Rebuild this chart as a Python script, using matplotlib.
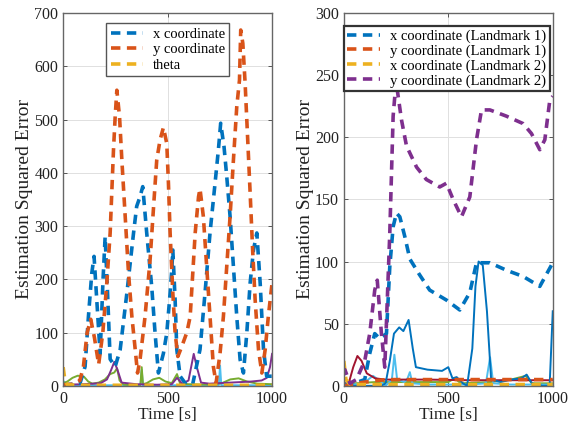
import matplotlib
matplotlib.use("Agg")
import matplotlib.pyplot as plt
import numpy as np

plt.rcParams['font.family'] = ['Liberation Serif', 'DejaVu Serif']

C_BLUE = '#0072BD'
C_ORANGE = '#D95319'
C_YELLOW = '#EDB120'
C_PURPLE = '#7E2F8E'
C_GREEN = '#77AC30'
C_CYAN = '#4DBEEE'
C_RED = '#A2142F'

# ---------------- Left panel data ----------------
L_x_t = [0, 50, 81, 105, 121, 137, 148, 161, 177, 191, 201, 212, 225, 249, 273, 305, 337, 352, 368, 381,
         400, 424, 440, 456, 480, 496, 512, 520, 525, 536, 544, 560, 590, 620, 655, 679, 703, 727, 743, 754,
         770, 783, 799, 815, 831, 847, 863, 879, 895, 911, 927, 943, 959, 974, 1000]
L_x_v = [2, 3, 5, 36, 130, 211, 243, 161, 60, 200, 280, 180, 50, 36, 68, 174, 287, 337, 355, 374,
         287, 186, 99, 24, 61, 99, 174, 218, 255, 161, 68, 18, 2, 3, 68, 174, 287, 380, 443, 493,
         449, 393, 318, 224, 130, 49, 24, 99, 193, 255, 287, 193, 68, 18, 18]

L_y_t = [0, 50, 80, 97, 115, 132, 150, 170, 190, 209, 225, 241, 249, 257, 270, 281, 297, 313, 329, 345,
         356, 368, 392, 416, 435, 448, 464, 480, 496, 504, 512, 525, 536, 549, 568, 592, 608, 632, 648, 655,
         671, 687, 703, 719, 732, 751, 767, 783, 799, 815, 831, 844, 850, 860, 871, 882, 895, 907, 919, 935,
         951, 967, 982, 1000]
L_y_v = [2, 3, 10, 36, 100, 125, 90, 40, 100, 193, 287, 443, 505, 555, 505, 424, 318, 211, 130, 68,
         24, 49, 130, 236, 349, 424, 462, 485, 455, 380, 287, 174, 99, 55, 74, 100, 130, 287, 355, 370,
         318, 224, 130, 36, 5, 61, 130, 224, 318, 424, 524, 574, 668, 643, 568, 474, 362, 255, 161, 68,
         24, 68, 130, 193]

L_th_t = [0, 8, 20, 60, 200, 500, 1000]
L_th_v = [35, 12, 2, 1, 1, 1, 1]

L_p_t = [0, 100, 180, 210, 230, 245, 260, 280, 350, 450, 520, 545, 570, 600, 615, 625, 640, 660, 700,
         800, 900, 950, 975, 990, 1000]
L_p_v = [2, 3, 5, 12, 30, 45, 30, 6, 3, 2, 3, 15, 4, 10, 40, 60, 35, 6, 4, 6, 8, 10, 15, 35, 60]

L_g_t = [0, 20, 45, 70, 100, 120, 140, 170, 200, 225, 245, 258, 270, 290, 340, 370, 376, 382, 400, 430,
         460, 490, 520, 545, 560, 600, 700, 760, 800, 840, 880, 930, 1000]
L_g_v = [5, 8, 15, 19, 17, 8, 4, 6, 12, 22, 25, 33, 10, 2, 1, 2, 35, 3, 5, 12, 15, 8, 5, 22, 4, 3, 2, 5,
         12, 14, 8, 4, 3]

L_c_t = [0, 5, 15, 200, 370, 376, 382, 500, 745, 751, 757, 900, 1000]
L_c_v = [2, 8, 1, 1, 1, 30, 1, 1, 1, 38, 1, 1, 1]

# ---------------- Right panel data ----------------
R_x_t = [0, 50, 100, 124, 148, 172, 204, 220, 236, 252, 268, 292, 316, 360, 411, 491, 555, 603, 635,
         699, 778, 858, 938, 1000]
R_x_v = [1, 2, 5, 26, 42, 38, 42, 96, 128, 139, 136, 120, 102, 90, 77, 69, 61, 75, 99,
         99, 93, 88, 80, 99]

R_y1_t = [0, 30, 100, 200, 400, 600, 800, 1000]
R_y1_v = [0, 1, 3, 5, 5, 5, 5, 5]

R_x2_t = [0, 10, 30, 100, 500, 1000]
R_x2_v = [20, 5, 1, 1, 1, 1]

R_y2_t = [0, 5, 29, 60, 100, 124, 148, 160, 180, 196, 220, 236, 250, 276, 300, 348, 395, 459, 491, 523,
          563, 603, 635, 659, 699, 778, 858, 898, 938, 962, 986, 1000]
R_y2_v = [10, 13, 2, 5, 20, 42, 77, 85, 42, 15, 123, 217, 245, 214, 193, 176, 166, 160, 163, 150,
          136, 152, 198, 222, 222, 217, 211, 203, 190, 198, 230, 233]

R_g_t = [0, 50, 150, 300, 500, 530, 560, 700, 800, 870, 900, 1000]
R_g_v = [1, 2, 3, 3, 3, 6, 2, 3, 5, 8, 2, 2]

R_c_t = [0, 50, 100, 140, 180, 200, 230, 242, 255, 290, 305, 316, 328, 400, 600, 680, 700, 715, 800, 1000]
R_c_v = [1, 1, 3, 8, 3, 0, 5, 25, 5, 3, 6, 11, 2, 1, 1, 2, 23, 2, 1, 1]

R_r_t = [0, 20, 45, 65, 85, 110, 150, 200, 400, 600, 800, 1000]
R_r_v = [3, 0, 15, 24, 20, 10, 6, 5, 5, 4.5, 4.5, 4.5]

R_b_t = [0, 180, 200, 220, 240, 265, 285, 310, 330, 345, 400, 470, 500, 520, 540, 570, 590, 615, 630,
         645, 665, 685, 705, 750, 800, 850, 875, 900, 950, 985, 1000]
R_b_v = [0, 0, 2, 20, 42, 47, 44, 53, 30, 15, 13, 12, 15, 6, 7, 2, 0, 30, 80,
         100, 97, 60, 5, 3, 5, 6, 9, 2, 0, 0, 60]

fig = plt.figure(figsize=(5.74, 4.33), dpi=100)
axL = fig.add_axes([0.110, 0.109, 0.364, 0.861])
axR = fig.add_axes([0.599, 0.109, 0.364, 0.861])

DLW = 2.6
DASH = (2.6, 1.8)
SLW = 1.4


def style(ax, ymax, yticks):
    ax.set_xlim(0, 1000)
    ax.set_ylim(0, ymax)
    ax.set_xticks([0, 500, 1000])
    ax.set_yticks(yticks)
    ax.grid(True, color='#e0e0e0', linewidth=0.7)
    ax.set_axisbelow(True)
    ax.tick_params(direction='in', top=True, right=True, length=3, width=0.7,
                   colors='#555555', labelcolor='#222222', labelsize=11.5)
    for s in ax.spines.values():
        s.set_color('#666666')
        s.set_linewidth(1.0)
    ax.set_xlabel('Time [s]', fontsize=12.5, color='#222222', labelpad=0)
    ax.set_ylabel('Estimation Squared Error', fontsize=14, color='#222222', labelpad=1)


# Left panel
axL.plot(L_c_t, L_c_v, color=C_CYAN, lw=SLW)
axL.plot(L_g_t, L_g_v, color=C_GREEN, lw=SLW)
axL.plot(L_p_t, L_p_v, color=C_PURPLE, lw=SLW)
hx, = axL.plot(L_x_t, L_x_v, color=C_BLUE, lw=DLW, dashes=DASH, label='x coordinate')
hy, = axL.plot(L_y_t, L_y_v, color=C_ORANGE, lw=DLW, dashes=DASH, label='y coordinate')
ht, = axL.plot(L_th_t, L_th_v, color=C_YELLOW, lw=DLW, dashes=DASH, label='theta')
style(axL, 700, [0, 100, 200, 300, 400, 500, 600, 700])
legL = axL.legend(handles=[hx, hy, ht], loc='upper left', bbox_to_anchor=(0.206, 0.972),
                  fontsize=10.5, frameon=True, fancybox=False, borderpad=0.3,
                  handlelength=2.2, handletextpad=0.7, labelspacing=0.15, borderaxespad=0)
legL.get_frame().set_edgecolor('#555555')
legL.get_frame().set_linewidth(1.0)
legL.get_frame().set_alpha(1)

# Right panel
axR.plot(R_g_t, R_g_v, color=C_GREEN, lw=SLW)
axR.plot(R_c_t, R_c_v, color=C_CYAN, lw=SLW)
axR.plot(R_r_t, R_r_v, color=C_RED, lw=SLW)
axR.plot(R_b_t, R_b_v, color=C_BLUE, lw=SLW)
h1, = axR.plot(R_x_t, R_x_v, color=C_BLUE, lw=DLW, dashes=DASH, label='x coordinate (Landmark 1)')
h2, = axR.plot(R_y1_t, R_y1_v, color=C_ORANGE, lw=DLW, dashes=DASH, label='y coordinate (Landmark 1)')
h3, = axR.plot(R_x2_t, R_x2_v, color=C_YELLOW, lw=DLW, dashes=DASH, label='x coordinate (Landmark 2)')
h4, = axR.plot(R_y2_t, R_y2_v, color=C_PURPLE, lw=DLW, dashes=DASH, label='y coordinate (Landmark 2)')
style(axR, 300, [0, 50, 100, 150, 200, 250, 300])
legR = axR.legend(handles=[h1, h2, h3, h4], loc='upper left', bbox_to_anchor=(0.0, 0.966),
                  fontsize=10.5, frameon=True, fancybox=False, borderpad=0.25,
                  handlelength=2.2, handletextpad=0.7, labelspacing=0.1, borderaxespad=0)
legR.get_frame().set_edgecolor('#333333')
legR.get_frame().set_linewidth(1.6)
legR.get_frame().set_alpha(1)

fig.savefig('out.png', dpi=100)
